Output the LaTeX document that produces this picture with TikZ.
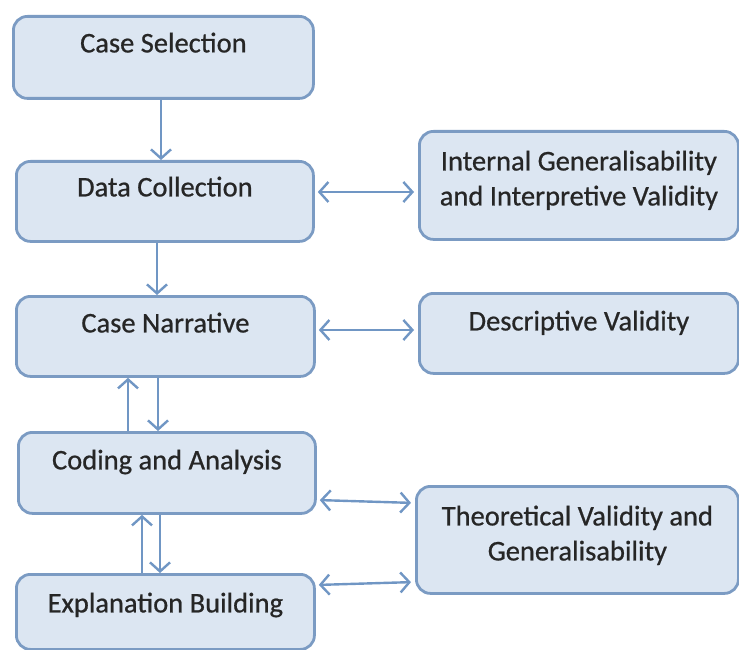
\documentclass[tikz,border=0pt]{standalone}
\usepackage{fontspec}
\setmainfont{Carlito}[BoldFont=Carlito, BoldFeatures={FakeBold=0.7}]
\usetikzlibrary{arrows.meta}

\definecolor{boxfill}{HTML}{DCE6F2}
\definecolor{boxline}{HTML}{7B9BC3}
\definecolor{arrowline}{HTML}{7096C4}
\definecolor{ink}{HTML}{262626}

\tikzset{
  stage/.style={draw=boxline, fill=boxfill, line width=2.8pt,
    rounded corners=14pt, anchor=north west, inner xsep=0pt, inner ysep=0pt,
    align=center, text=ink,
    font=\fontsize{28.5}{35}\selectfont\bfseries},
  barb/.tip={Straight Barb[length=9pt,width=20pt,line width=2.4pt]},
  link/.style={draw=arrowline, line width=2.4pt, -barb},
  twoway/.style={draw=arrowline, line width=2.4pt, barb-barb,
    shorten <=3pt, shorten >=4pt},
}

\begin{document}
\begin{tikzpicture}[x=1pt, y=-1pt]
  \useasboundingbox (0,0) rectangle (739,650);

  % left column: the research stages
  \node[stage, minimum width=300pt, text height=36pt, text depth=46pt] (cs) at (12,15) {Case Selection};
  \node[stage, minimum width=297pt, text height=35pt, text depth=45pt] (dc) at (15,160) {Data Collection};
  \node[stage, minimum width=298pt, text height=36pt, text depth=44pt] (cn) at (15,295) {Case Narrative};
  \node[stage, minimum width=297pt, text height=37pt, text depth=44pt] (co) at (17,431) {Coding and Analysis};
  \node[stage, minimum width=298pt, text height=38pt, text depth=37pt] (ex) at (15,573) {Explanation Building};

  % right column: the validity checks
  \node[stage, minimum width=319pt, text height=74pt, text depth=34pt] (iv) at (418,130) {Internal Generalisability\\and Interpretive Validity};
  \node[stage, minimum width=319pt, text height=37pt, text depth=43pt] (dv) at (418,292) {Descriptive Validity};
  \node[stage, minimum width=322pt, text height=74pt, text depth=33pt] (tv) at (415,485) {Theoretical Validity and\\Generalisability};

  % flow down the stages
  \draw[link] (cs.south -| 161,0) -- (dc.north -| 161,0);
  \draw[link] (dc.south -| 157,0) -- (cn.north -| 157,0);
  \draw[link] (cn.south -| 158,0) -- (co.north -| 158,0);
  \draw[link] (co.north -| 128,0) -- (cn.south -| 128,0);
  \draw[link] (co.south -| 160,0) -- (ex.north -| 160,0);
  \draw[link] (ex.north -| 142,0) -- (co.south -| 142,0);

  % links to the validity checks
  \draw[twoway] (dc.east |- 0,192) -- (iv.west |- 0,192);
  \draw[twoway] (cn.east |- 0,330) -- (dv.west |- 0,330);
  \draw[twoway] (co.east |- 0,500) -- (tv.west |- 0,503);
  \draw[twoway] (ex.east |- 0,585) -- (tv.west |- 0,582);
\end{tikzpicture}
\end{document}
